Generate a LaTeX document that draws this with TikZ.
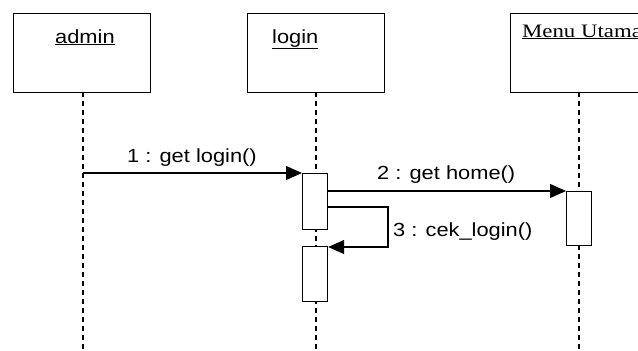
\documentclass[tikz,border=0pt]{standalone}
\usepackage{fontspec}
\setmainfont[FakeStretch=1.15]{Liberation Sans}
\newfontfamily\serifm[FakeStretch=1.2]{Liberation Serif}
\usetikzlibrary{arrows.meta}
\begin{document}
\begin{tikzpicture}[x=1pt,y=-1pt,
  objbox/.style={draw, line width=1.3pt, fill=white, minimum width=137pt, minimum height=79pt, anchor=north west, inner sep=0pt},
  actbox/.style={draw, line width=1.2pt, fill=white, minimum width=25pt, anchor=north west, inner sep=0pt},
  lifeline/.style={line width=1.2pt, dash pattern=on 5pt off 4pt},
  msg/.style={line width=1.2pt, -{Triangle[length=16pt,width=14pt]}},
  lbl/.style={font=\fontsize{19}{22}\selectfont, inner sep=0pt, anchor=base west},
  objlbl/.style={font=\fontsize{19}{22}\selectfont, inner sep=0pt, anchor=base west}]
\clip (0,0) rectangle (638,351);
\fill[white] (0,0) rectangle (638,351);
% objects
\node[objbox] (admin) at (13,13) {};
\node[objbox] (login) at (247,13) {};
\node[objbox, minimum width=160pt] (menu) at (510,13) {};
\node[objlbl] (adminlbl) at (55,43) {\underline{admin}};
\node[objlbl] (loginlbl) at (272,43) {\underline{login}};
\node[objlbl, font=\serifm\fontsize{19}{22}\selectfont] (menulbl) at (522,37) {\underline{Menu Utama}};
% lifeline end points
\coordinate (adminend) at (83,351);
\coordinate (loginend) at (316,351);
\coordinate (menuend) at (579,351);
\coordinate (admintop) at (83,92);
\coordinate (logintop) at (316,92);
\coordinate (menutop) at (579,92);
\draw[lifeline] (admintop) -- (adminend);
\draw[lifeline] (logintop) -- (loginend);
\draw[lifeline] (menutop) -- (menuend);
% activations
\node[actbox, minimum height=56pt] (act1) at (302,173) {};
\node[actbox, minimum height=54pt] (act2) at (566,191) {};
\node[actbox, minimum height=55pt] (act3) at (302,246) {};
% messages
\coordinate (m1s) at (83,173);
\draw[msg] (m1s) -- (act1.north west);
\node[lbl] (l1) at (127,162) {1 : get login()};
\draw[msg] (act1.east |- act2.north) -- (act2.north west);
\node[lbl] (l2) at (377,179) {2 : get home()};
\coordinate (m3a) at (388,207);
\coordinate (m3b) at (388,247);
\draw[msg] (act1.east |- m3a) -- (m3a) -- (m3b) -- (act3.east |- m3b);
\node[lbl] (l3) at (393,236) {3 : cek\_login()};
\end{tikzpicture}
\end{document}
